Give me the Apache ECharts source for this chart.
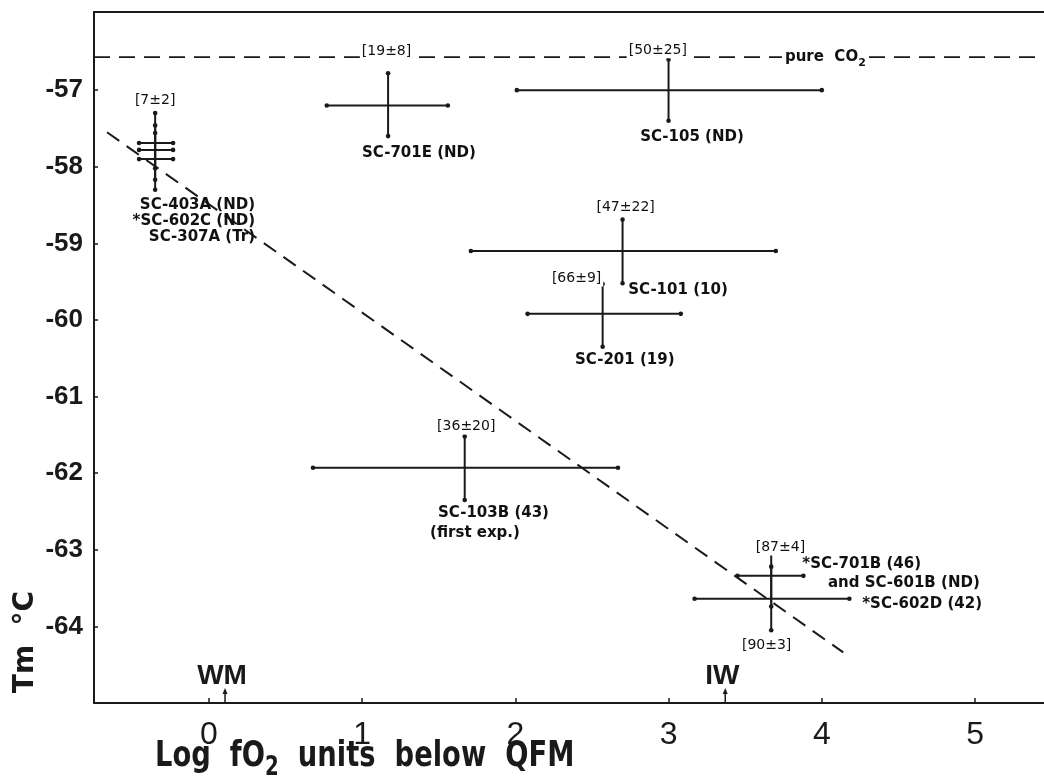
<!DOCTYPE html>
<html>
<head>
<meta charset="utf-8">
<script src="https://cdn.jsdelivr.net/npm/echarts@6/dist/echarts.min.js"></script>
<style>html,body{margin:0;padding:0;background:#fff;}#c{width:1044px;height:780px;}</style>
</head>
<body>
<div id="c"></div>
<script>
// ---- data ----
const xTicks = [0, 1, 2, 3, 4, 5];
const yTicks = [-64, -63, -62, -61, -60, -59, -58, -57];

const sampleIds  = ['SC-403A', 'SC-602C', 'SC-307A', 'SC-701E', 'SC-105', 'SC-101', 'SC-201', 'SC-103B', 'SC-701B', 'SC-602D'];
const logFO2     = [-0.35, -0.35, -0.35, 1.17, 3.00, 2.70, 2.57, 1.67, 3.67, 3.67];
const logFO2Low  = [-0.455, -0.455, -0.455, 0.77, 2.01, 1.71, 2.08, 0.68, 3.45, 3.17];
const logFO2High = [-0.233, -0.233, -0.233, 1.56, 4.00, 3.70, 3.08, 2.67, 3.88, 4.18];
const tm         = [-57.69, -57.78, -57.90, -57.20, -57.00, -59.10, -59.92, -61.93, -63.34, -63.64];
const tmLow      = [-58.02, -58.17, -58.30, -57.60, -57.40, -59.52, -60.35, -62.35, -63.74, -64.05];
const tmHigh     = [-57.30, -57.46, -57.56, -56.78, -56.60, -58.69, -59.53, -61.52, -62.93, -63.22];

const co2Tm = -56.57;
const trendX = [-0.664, 4.14];
const trendY = [-57.55, -64.34];

const bufferNames = ['WM', 'IW'];
const bufferX = [0.106, 3.37];

const bracketText = ['[7±2]', '[19±8]', '[50±25]', '[47±22]', '[66±9]', '[36±20]', '[87±4]', '[90±3]'];
const bracketX = [-0.35, 1.16, 2.93, 2.72, 2.40, 1.68, 3.73, 3.64];
const bracketY = [-57.13, -56.50, -56.48, -58.53, -59.46, -61.39, -62.97, -64.25];

const labelText = ['SC-701E (ND)', 'SC-105 (ND)', 'SC-101 (10)', 'SC-201 (19)', 'SC-103B (43)', '(first exp.)', '*SC-701B (46)', 'and SC-601B (ND)', '*SC-602D (42)'];
const labelX = [1.00, 2.815, 2.737, 2.39, 1.496, 1.444, 3.873, 4.04, 4.264];
const labelY = [-57.82, -57.61, -59.61, -60.52, -62.52, -62.78, -63.19, -63.43, -63.71];

const clusterText = ['SC-403A (ND)', '*SC-602C (ND)', 'SC-307A (Tr)'];
const clusterX = [0.302, 0.302, 0.302];
const clusterY = [-58.50, -58.71, -58.92];

const co2Text = 'pure  CO';
const co2LabelX = 3.74;

// ---- chart ----
const INK = '#1a1a1a';
const X_MIN = -0.749, X_MAX = 5.45, Y_MIN = -65, Y_MAX = -55.98;
const chart = echarts.init(document.getElementById('c'), null, {renderer: 'canvas'});

const barData = sampleIds.map((id, i) => [logFO2[i], tm[i], logFO2Low[i], logFO2High[i], tmLow[i], tmHigh[i], id]);

function renderCross(params, api) {
  const l = api.coord([api.value(2), api.value(1)]);
  const r = api.coord([api.value(3), api.value(1)]);
  const b = api.coord([api.value(0), api.value(4)]);
  const t = api.coord([api.value(0), api.value(5)]);
  const st = {stroke: INK, lineWidth: 2};
  const cap = p => ({type: 'circle', shape: {cx: p[0], cy: p[1], r: 2.3}, style: {fill: INK}});
  return {type: 'group', children: [
    {type: 'line', shape: {x1: l[0], y1: l[1], x2: r[0], y2: r[1]}, style: st},
    {type: 'line', shape: {x1: t[0], y1: t[1], x2: b[0], y2: b[1]}, style: st},
    cap(l), cap(r), cap(t), cap(b)
  ]};
}

function renderArrow(params, api) {
  const p = api.coord([api.value(0), Y_MIN]);
  return {type: 'group', children: [
    {type: 'line', shape: {x1: p[0], y1: p[1], x2: p[0], y2: p[1] - 12}, style: {stroke: INK, lineWidth: 1.5}},
    {type: 'polygon', shape: {points: [[p[0] - 2.5, p[1] - 9], [p[0] + 2.5, p[1] - 9], [p[0], p[1] - 15]]}, style: {fill: INK}},
    {type: 'text', x: p[0] - 3, y: p[1] - 27, style: {text: bufferNames[params.dataIndex], fill: INK,
      fontSize: 28, fontWeight: 'bold', fontFamily: '"Liberation Sans", Arial, sans-serif', align: 'center', verticalAlign: 'middle'}}
  ]};
}

const annFont = '"DejaVu Sans", sans-serif';
const annLabel = {show: true, position: [0, 0], verticalAlign: 'middle', formatter: p => p.data[2],
  color: '#111', opacity: 1, textBorderWidth: 0, fontSize: 15, fontWeight: 'bold', fontFamily: annFont};

const option = {
  animation: false,
  backgroundColor: '#fff',
  grid: {left: 94, right: 0, top: 12, bottom: 77, containLabel: false},
  xAxis: [{
    type: 'value', min: X_MIN, max: X_MAX, position: 'bottom',
    splitLine: {show: false},
    axisLine: {show: true, onZero: false, lineStyle: {color: INK, width: 2}},
    axisTick: {show: true, inside: true, length: 5, lineStyle: {color: INK, width: 1.5}, customValues: xTicks},
    axisLabel: {customValues: xTicks, color: INK, fontSize: 32, fontFamily: '"Liberation Sans", Arial, sans-serif', margin: 16, formatter: v => String(v)}
  }, {
    type: 'value', min: X_MIN, max: X_MAX, position: 'top',
    splitLine: {show: false},
    axisLine: {show: true, onZero: false, lineStyle: {color: INK, width: 2}},
    axisTick: {show: false}, axisLabel: {show: false}
  }],
  yAxis: [{
    type: 'value', min: Y_MIN, max: Y_MAX,
    splitLine: {show: false},
    axisLine: {show: true, onZero: false, lineStyle: {color: INK, width: 2}},
    axisTick: {show: true, inside: true, length: 4, lineStyle: {color: INK, width: 1.5}, customValues: yTicks},
    axisLabel: {customValues: yTicks, color: INK, fontSize: 26, fontWeight: 'bold', fontFamily: '"Liberation Sans", Arial, sans-serif', margin: 11, formatter: v => String(v)}
  }],
  series: [
    {
      name: 'pure CO2', type: 'line',
      data: [[X_MIN, co2Tm], [X_MAX, co2Tm]], symbol: 'none', silent: true, z: 1,
      lineStyle: {color: INK, width: 1.8, type: [16, 9]}
    },
    {
      name: 'trend', type: 'line', data: trendX.map((x, i) => [x, trendY[i]]), symbol: 'none', silent: true, z: 2,
      lineStyle: {color: INK, width: 2, type: [15, 9]}
    },
    {
      name: 'samples', type: 'custom', renderItem: renderCross, data: barData, z: 3,
      encode: {x: [0, 2, 3], y: [1, 4, 5]}
    },
    {
      name: 'buffers', type: 'custom', renderItem: renderArrow, data: bufferX.map((x, i) => [x, i]), z: 3, clip: false,
      encode: {x: 0}
    },
    {
      name: 'brackets', type: 'scatter', symbolSize: 0, z: 5, silent: true,
      data: bracketText.map((t, i) => [bracketX[i], bracketY[i], t]),
      label: Object.assign({}, annLabel, {align: 'center', fontSize: 14, fontWeight: 'normal', backgroundColor: '#fff', padding: [1, 2]})
    },
    {
      name: 'labels', type: 'scatter', symbolSize: 0, z: 5, silent: true,
      data: labelText.map((t, i) => [labelX[i], labelY[i], t]),
      label: Object.assign({}, annLabel, {align: 'left'})
    },
    {
      name: 'cluster', type: 'scatter', symbolSize: 0, z: 5, silent: true,
      data: clusterText.map((t, i) => [clusterX[i], clusterY[i], t]),
      label: Object.assign({}, annLabel, {align: 'right'})
    },
    {
      name: 'co2label', type: 'scatter', symbolSize: 0, z: 5, silent: true,
      data: [[co2LabelX, co2Tm, co2Text]],
      label: Object.assign({}, annLabel, {align: 'left', backgroundColor: '#fff', padding: [0, 3],
        formatter: p => p.data[2] + '{s|2}',
        rich: {s: {fontSize: 11, fontWeight: 'bold', fontFamily: annFont, color: '#111', padding: [12, 0, 0, 0]}}})
    }
  ],
  graphic: [
    {
      type: 'text', x: 155, y: 757, scaleX: 0.76, silent: true,
      style: {
        text: 'Log  fO{s|2}  units  below  QFM', fill: INK, fontSize: 36, fontWeight: 'bold',
        fontFamily: '"DejaVu Sans", sans-serif', align: 'left', verticalAlign: 'middle',
        rich: {s: {fontSize: 26, fontWeight: 'bold', fontFamily: '"DejaVu Sans", sans-serif', fill: INK, padding: [22, 0, 0, 0]}}
      }
    },
    {
      type: 'text', x: 26, y: 642, rotation: Math.PI / 2, silent: true,
      style: {text: 'Tm  °C', fill: INK, fontSize: 28, fontWeight: 'bold', fontFamily: '"DejaVu Sans", sans-serif', align: 'center', verticalAlign: 'middle'}
    }
  ]
};
chart.setOption(option);
</script>
</body>
</html>
